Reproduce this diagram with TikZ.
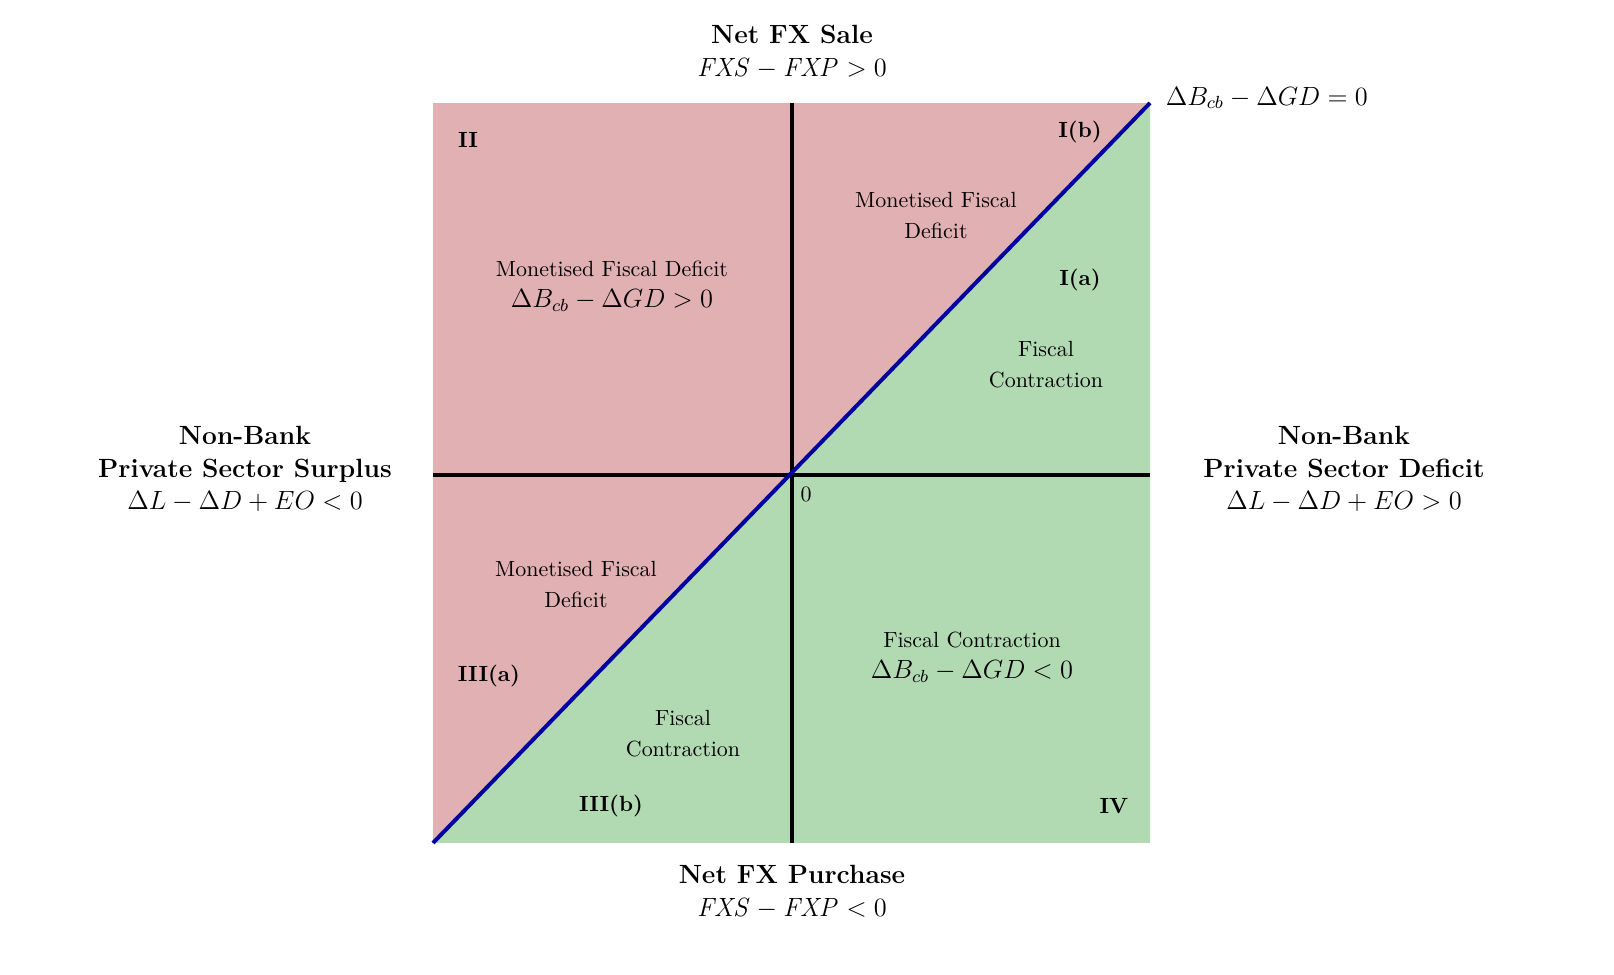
\documentclass[tikz,border=0pt]{standalone}
\usepackage{amsmath}
\usepackage{tikz}
\usetikzlibrary{positioning,calc}
\definecolor{deficitred}{RGB}{225,176,178}
\definecolor{contractgreen}{RGB}{178,218,178}
\definecolor{zeroblue}{RGB}{0,0,160}

\begin{document}
\begin{tikzpicture}[
  region/.style={align=center,font=\normalsize},
  quad/.style={font=\bfseries},
  head/.style={align=center,font=\large}]
\useasboundingbox (-12.672,-8.0) rectangle (13.152,7.6);
\coordinate (o) at (0,0);
\coordinate (sw) at (-5.744,-5.888);
\coordinate (ne) at (5.728,5.952);
\coordinate (se) at (ne|-sw);
\fill[deficitred] (sw) rectangle (ne);
\fill[contractgreen] (sw) -- (se) -- (ne) -- cycle;   % below the zero line
\draw[line width=1.4pt] (sw|-o) -- (ne|-o);          % horizontal axis
\draw[line width=1.4pt] (o|-sw) -- (o|-ne);          % vertical axis
\draw[zeroblue, line width=1.8pt] (sw) -- (ne);      % zero line
% axis headings
\node[head] (sale) at (0,6.776) {\textbf{Net FX Sale}\\[1pt] $\mathit{FXS}-\mathit{FXP}>0$};
\node[head] (purchase) at (0,-6.672) {\textbf{Net FX Purchase}\\[1pt] $\mathit{FXS}-\mathit{FXP}<0$};
\node[head] (surplus) at (-8.752,0.096) {\textbf{Non-Bank}\\[1pt] \textbf{Private Sector Surplus}\\[1pt] $\Delta L-\Delta D+EO<0$};
\node[head] (deficit) at (8.832,0.096) {\textbf{Non-Bank}\\[1pt] \textbf{Private Sector Deficit}\\[1pt] $\Delta L-\Delta D+EO>0$};
\node[anchor=west,font=\large] (zero) at (5.856,6.032) {$\Delta B_{cb}-\Delta GD=0$};
\node (origin) at (0.224,-0.304) {0};
% quadrant names
\node[quad] (q2) at (-5.184,5.36) {II};
\node[quad] (q1b) at (4.608,5.488) {I(b)};
\node[quad] (q1a) at (4.608,3.12) {I(a)};
\node[quad] (q3a) at (-4.848,-3.216) {III(a)};
\node[quad] (q3b) at (-2.896,-5.296) {III(b)};
\node[quad] (q4) at (5.152,-5.296) {IV};
% region texts
\node[region] (mfd2) at (-2.88,3.016) {Monetised Fiscal Deficit\\[2pt] {\large $\Delta B_{cb}-\Delta GD>0$}};
\node[region] (mfd1) at (2.304,4.152) {Monetised Fiscal\\[2pt] Deficit};
\node[region] (fc1) at (4.064,1.768) {Fiscal\\[2pt] Contraction};
\node[region] (mfd3) at (-3.456,-1.752) {Monetised Fiscal\\[2pt] Deficit};
\node[region] (fc3) at (-1.744,-4.136) {Fiscal\\[2pt] Contraction};
\node[region] (fc4) at (2.88,-2.912) {Fiscal Contraction\\[2pt] {\large $\Delta B_{cb}-\Delta GD<0$}};
\end{tikzpicture}
\end{document}
